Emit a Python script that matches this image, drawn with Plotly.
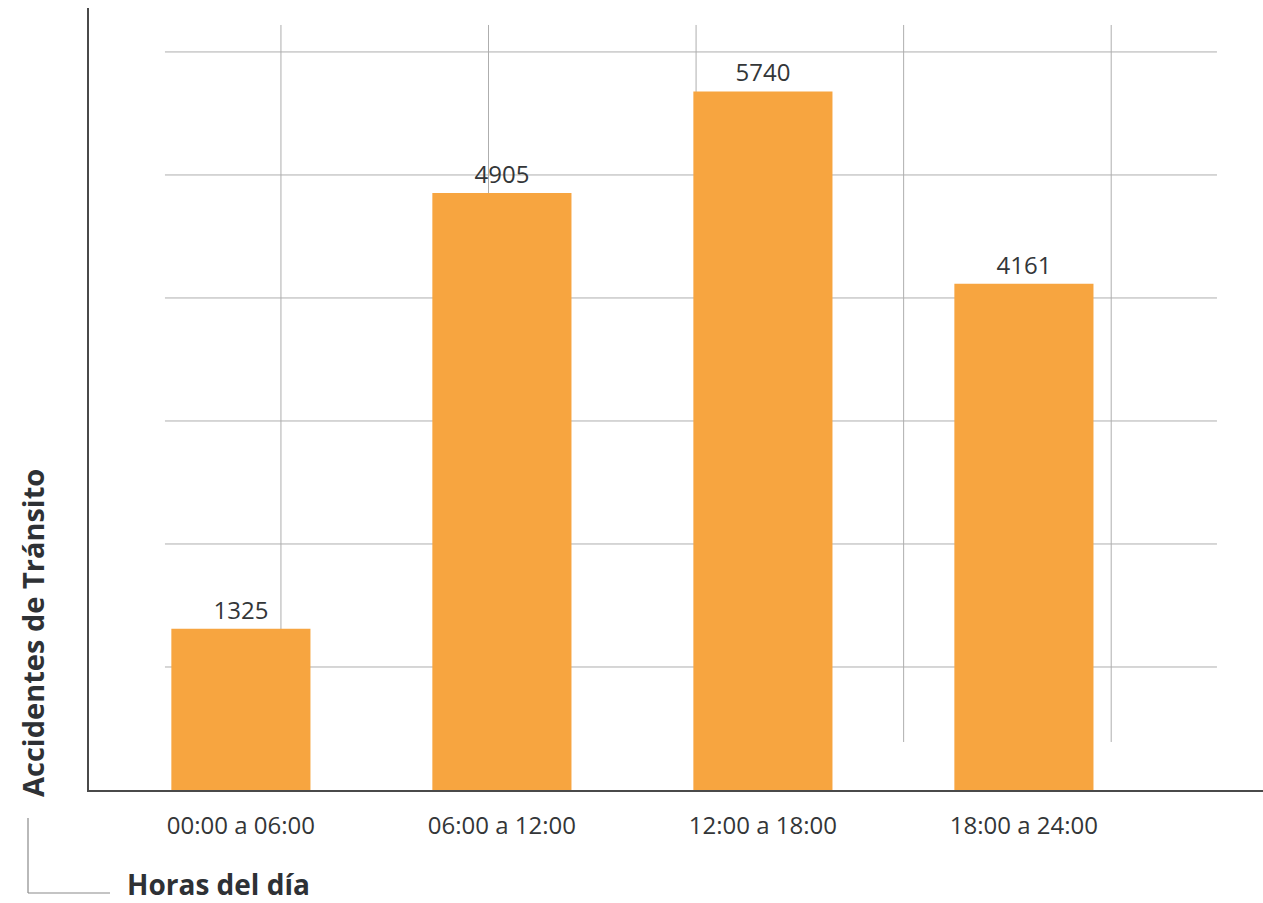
import plotly.graph_objects as go

categories = ["00:00 a 06:00", "06:00 a 12:00", "12:00 a 18:00", "18:00 a 24:00"]
values = [1325, 4905, 5740, 4161]

bar_color = "#F7A540"
text_color = "#333638"
grid_color = "#AEAEAE"
axis_color = "#4A4A4A"
font_family = "Open Sans, Lato, sans-serif"

fig = go.Figure()
fig.add_trace(go.Bar(
    x=list(range(len(categories))),
    y=values,
    width=0.533,
    marker=dict(color=bar_color, line=dict(width=0)),
    text=[str(v) for v in values],
    textposition="outside",
    textfont=dict(size=24, color=text_color, family=font_family),
    cliponaxis=False,
    hoverinfo="x+y",
))

shapes = []
# horizontal decorative grid (paper coordinates)
for k in range(1, 7):
    yy = k * 0.1573
    shapes.append(dict(type="line", xref="paper", yref="paper",
                       x0=0.0647, x1=0.9608, y0=yy, y1=yy,
                       line=dict(color=grid_color, width=1), layer="below"))
# vertical decorative grid
for k in range(5):
    xx = 0.1635 + k * 0.1768
    shapes.append(dict(type="line", xref="paper", yref="paper",
                       x0=xx, x1=xx, y0=0.0614, y1=0.9783,
                       line=dict(color=grid_color, width=1), layer="below"))
# L-shaped bracket near x title
shapes.append(dict(type="line", xref="paper", yref="paper",
                   x0=(28 - 89) / 1174, x1=(28 - 89) / 1174,
                   y0=(790 - 818) / 782, y1=(790 - 893) / 782,
                   line=dict(color="#8A8A8A", width=1.2)))
shapes.append(dict(type="line", xref="paper", yref="paper",
                   x0=(28 - 89) / 1174, x1=(110 - 89) / 1174,
                   y0=(790 - 893) / 782, y1=(790 - 893) / 782,
                   line=dict(color="#8A8A8A", width=1.2)))

annotations = [
    dict(text="<b>Accidentes de Tránsito</b>", xref="paper", yref="paper",
         x=(32 - 89) / 1174, y=(790 - 633) / 782, textangle=-90,
         xanchor="center", yanchor="middle", showarrow=False,
         font=dict(size=29, color="#2E3135", family=font_family)),
    dict(text="<b>Horas del día</b>", xref="paper", yref="paper",
         x=(125 - 89) / 1174, y=(790 - 884) / 782,
         xanchor="left", yanchor="middle", showarrow=False,
         font=dict(size=28, color="#2E3135", family=font_family)),
]

fig.update_layout(
    width=1263, height=903,
    margin=dict(l=89, r=0, t=8, b=113),
    paper_bgcolor="white", plot_bgcolor="white",
    showlegend=False,
    shapes=shapes,
    annotations=annotations,
    font=dict(family=font_family, color=text_color),
    xaxis=dict(
        tickmode="array", tickvals=list(range(len(categories))), ticktext=categories,
        range=[-0.582, 3.916],
        showgrid=False, zeroline=False,
        showline=True, linecolor=axis_color, linewidth=2,
        ticks="", ticklabelstandoff=13,
        tickfont=dict(size=24, color=text_color, family=font_family),
    ),
    yaxis=dict(
        range=[0, 6426],
        showgrid=False, zeroline=False,
        showline=True, linecolor=axis_color, linewidth=2,
        showticklabels=False, ticks="",
    ),
)

fig.write_html("out.html",
               config={"displayModeBar": False},
               post_script="document.body.style.margin='0';document.body.style.padding='0';")
